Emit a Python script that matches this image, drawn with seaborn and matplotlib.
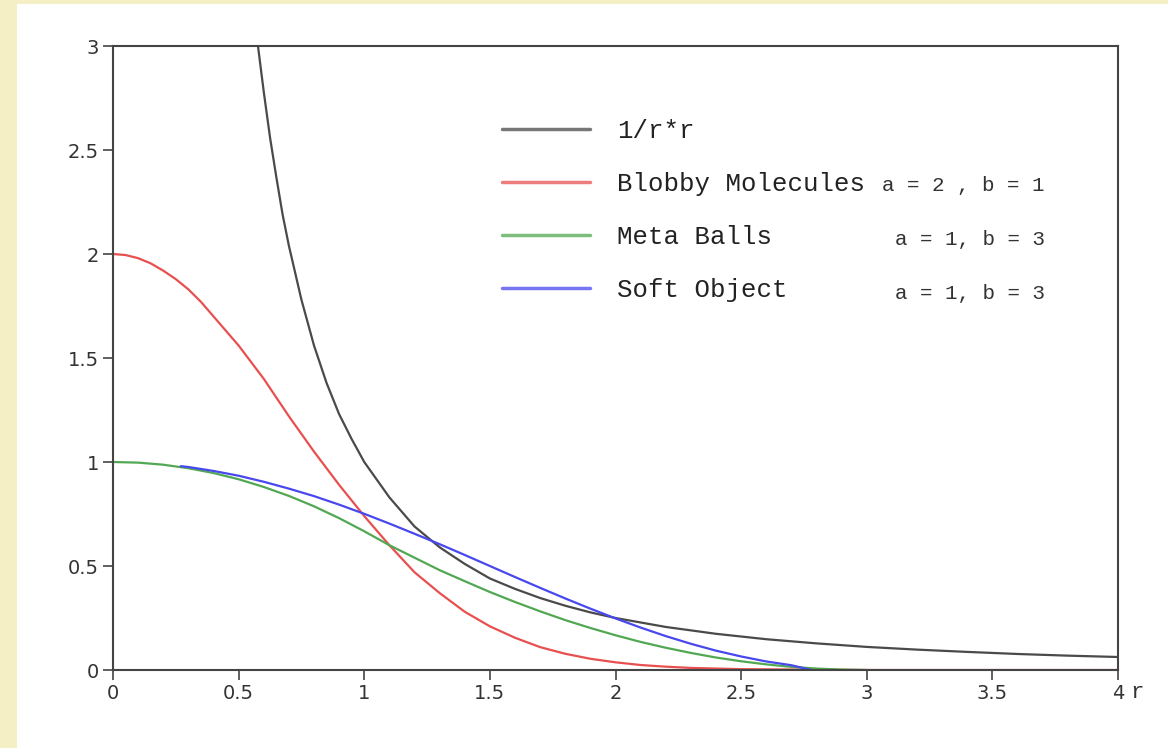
import matplotlib
matplotlib.use("Agg")
import matplotlib.pyplot as plt
import matplotlib.patches as mpatches
import seaborn as sns
import pandas as pd

# Values
r_inv = [0.577, 0.6, 0.625, 0.65, 0.675, 0.7, 0.75, 0.8, 0.85, 0.9, 0.95, 1.0, 1.1, 1.2, 1.3,
         1.4, 1.5, 1.6, 1.7, 1.8, 1.9, 2.0, 2.2, 2.4, 2.6, 2.8, 3.0, 3.2, 3.4, 3.6, 3.8, 4.0]
inv_sq = [3.0, 2.78, 2.56, 2.37, 2.19, 2.04, 1.78, 1.56, 1.38, 1.23, 1.11, 1.00, 0.83, 0.69, 0.59,
          0.51, 0.44, 0.39, 0.346, 0.309, 0.277, 0.25, 0.207, 0.174, 0.148, 0.128, 0.111, 0.098,
          0.087, 0.077, 0.069, 0.0625]

r_blobby = [0.0, 0.05, 0.1, 0.15, 0.2, 0.25, 0.3, 0.35, 0.4, 0.45, 0.5, 0.6, 0.7, 0.8, 0.9, 1.0,
            1.1, 1.2, 1.3, 1.4, 1.5, 1.6, 1.7, 1.8, 1.9, 2.0, 2.1, 2.2, 2.3, 2.5, 3.0, 4.0]
blobby = [2.0, 1.995, 1.98, 1.955, 1.92, 1.879, 1.83, 1.77, 1.70, 1.63, 1.56, 1.40, 1.22, 1.05,
          0.89, 0.74, 0.60, 0.47, 0.37, 0.28, 0.21, 0.155, 0.11, 0.078, 0.054, 0.037, 0.024,
          0.016, 0.010, 0.004, 0.0, 0.0]

r_meta = [0.0, 0.1, 0.2, 0.3, 0.4, 0.5, 0.6, 0.7, 0.8, 0.9, 1.0, 1.1, 1.2, 1.3, 1.4, 1.5,
          1.6, 1.7, 1.8, 1.9, 2.0, 2.1, 2.2, 2.3, 2.4, 2.5, 2.6, 2.7, 2.8, 2.9, 3.0]
meta = [1.0, 0.997, 0.987, 0.97, 0.947, 0.917, 0.88, 0.837, 0.787, 0.73, 0.667, 0.60, 0.54, 0.48,
        0.427, 0.375, 0.327, 0.282, 0.24, 0.202, 0.167, 0.135, 0.107, 0.082, 0.06, 0.042, 0.027,
        0.015, 0.007, 0.002, 0.0]

r_soft = [0.27, 0.3, 0.4, 0.5, 0.6, 0.7, 0.8, 0.9, 1.0, 1.1, 1.2, 1.3, 1.4, 1.5, 1.6, 1.7,
          1.8, 1.9, 2.0, 2.1, 2.2, 2.3, 2.4, 2.5, 2.6, 2.7, 2.78]
soft = [0.98, 0.976, 0.957, 0.934, 0.905, 0.872, 0.836, 0.795, 0.751, 0.704, 0.655, 0.605, 0.553,
        0.50, 0.447, 0.395, 0.344, 0.295, 0.248, 0.204, 0.163, 0.126, 0.093, 0.065, 0.041, 0.023, 0.0]

labels = ["1/r*r", "Blobby Molecules", "Meta Balls", "Soft Object"]
params = ["a = 2 , b = 1", "a = 1, b = 3", "a = 1, b = 3"]
colors = ["#4a4a4a", "#e85050", "#52a852", "#4848ee"]

x_ticks = [0, 0.5, 1, 1.5, 2, 2.5, 3, 3.5, 4]
x_tick_labels = ["0", "0.5", "1", "1.5", "2", "2.5", "3", "3.5", "4"]
y_ticks = [0, 0.5, 1, 1.5, 2, 2.5, 3]
y_tick_labels = ["0", "0.5", "1", "1.5", "2", "2.5", "3"]

sns.set_style("white")
plt.rcParams["font.family"] = ["DejaVu Sans"]
mono = "Liberation Mono"

fig = plt.figure(figsize=(11.68, 7.48), dpi=100, facecolor="#f4efc4")
# white panel on the pale yellow page
fig.patches.append(mpatches.Rectangle((17 / 1168, 0), 1, 1 - 4 / 748, transform=fig.transFigure,
                                      facecolor="white", edgecolor="none", zorder=-10))
ax = fig.add_axes([113 / 1168, 1 - 670 / 748, 1005 / 1168, 624 / 748])
ax.set_zorder(5)
ax.set_facecolor("white")

series = [(r_inv, inv_sq), (r_blobby, blobby), (r_meta, meta), (r_soft, soft)]
for (xs, ys), lab, col in zip(series, labels, colors):
    df = pd.DataFrame({"r": xs, "v": ys})
    sns.lineplot(data=df, x="r", y="v", ax=ax, color=col, linewidth=1.6, label=lab)

ax.set_xlim(0, 4)
ax.set_ylim(0, 3)
ax.set_xticks(x_ticks)
ax.set_xticklabels(x_tick_labels)
ax.set_yticks(y_ticks)
ax.set_yticklabels(y_tick_labels)
ax.set_ylabel("")
ax.set_xlabel("r", fontfamily=mono, fontsize=16, color="#333333")
ax.xaxis.set_label_coords(1.019, -0.02)
ax.tick_params(axis="both", direction="out", length=7, width=1.2, color="#444444",
               labelsize=14, labelcolor="#333333", pad=3,
               bottom=True, left=True)
for sp in ax.spines.values():
    sp.set_color("#444444")
    sp.set_linewidth(1.5)

leg = ax.legend(loc="upper left", bbox_to_anchor=(0.387, 0.883), frameon=False,
                borderpad=0, borderaxespad=0, handlelength=3.42, handletextpad=1.05,
                labelspacing=1.13, prop={"family": mono, "size": 18.5})
for line in leg.get_lines():
    line.set_linewidth(2.5)
    line.set_alpha(0.75)
for txt in leg.get_texts():
    txt.set_color("#222222")

param_y = [0.776, 0.690, 0.604]
for p, yy in zip(params, param_y):
    ax.text(0.927, yy, p, transform=ax.transAxes, ha="right", va="center",
            fontfamily=mono, fontsize=15, color="#333333")

fig.savefig("out.png", dpi=100, facecolor=fig.get_facecolor())
